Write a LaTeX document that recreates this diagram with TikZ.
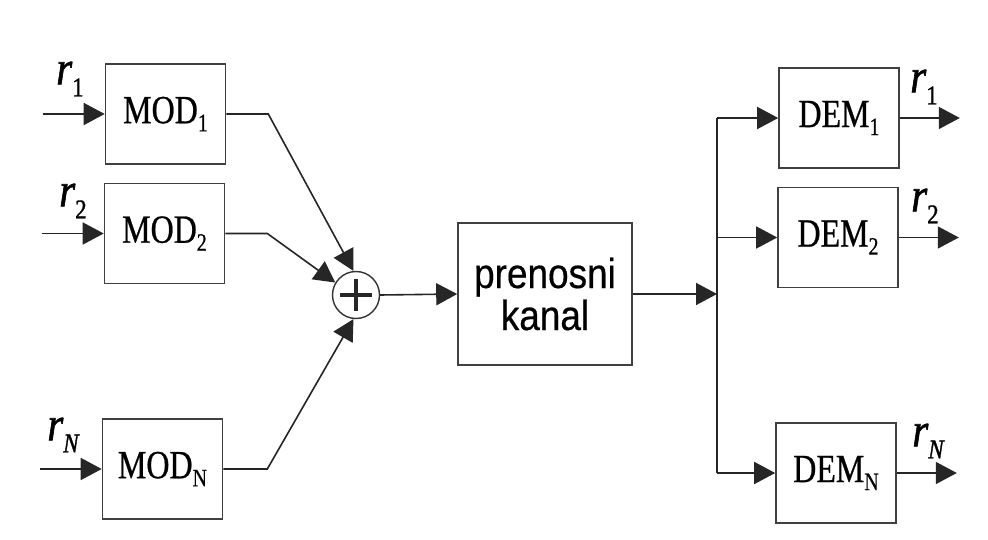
\documentclass[tikz,border=0pt]{standalone}
\usepackage{fontspec}
\setmainfont{Liberation Serif}
\newfontfamily\blockserif[FakeStretch=0.8, FakeBold=0.6]{Liberation Serif}
\newfontfamily\sigserif[FakeStretch=0.85, FakeBold=1.2]{Liberation Serif}
\newfontfamily\blocksans[FakeStretch=0.88, FakeBold=0.4]{Liberation Sans}
\usetikzlibrary{arrows.meta}

% block label with a lowered index, e.g. MOD_1
\newcommand{\blk}[2]{{\blockserif\fontsize{40}{40}\selectfont #1\raisebox{-8pt}{\fontsize{25}{25}\selectfont #2}}}
% signal name r with index
\newcommand{\sig}[1]{{\sigserif\fontsize{48}{48}\selectfont\itshape r\raisebox{-12pt}{\fontsize{27}{27}\selectfont\upshape #1}}}

\begin{document}
\begin{tikzpicture}[x=1pt, y=-1pt,
  line/.style={draw=black!85, line width=1.6pt},
  arr/.style={line, -{Triangle[length=21pt, width=22pt]}},
  blockbox/.style={draw=black!75, line width=1.6pt, fill=white, inner sep=0pt,
                   minimum width=120pt, minimum height=100pt},
  sumnode/.style={circle, draw=black!80, line width=1.4pt, minimum size=47pt, inner sep=0pt},
  sigtext/.style={inner sep=0pt}]

  \useasboundingbox[fill=white] (0,0) rectangle (988,540);

  % modulators
  \node[blockbox] (mod1) at (165.5,114)   {\blk{MOD}{1}};
  \node[blockbox] (mod2) at (164.5,233.5) {\blk{MOD}{2}};
  \node[blockbox] (modN) at (162.5,469)   {\blk{MOD}{N}};

  % adder
  \node[sumnode] (sum) at (356,295) {};
  \draw[line width=4pt, black!85] ([xshift=-16pt]sum.center) -- ([xshift=16pt]sum.center);
  \draw[line width=4pt, black!85] ([yshift=-16pt]sum.center) -- ([yshift=16pt]sum.center);

  % channel
  \node[blockbox, minimum width=174pt, minimum height=142pt, align=center,
        font=\blocksans\fontsize{42}{42}\selectfont] (chan) at (545,294) {prenosni\\kanal};

  % demodulators
  \node[blockbox] (dem1) at (839,118)   {\blk{DEM}{1}};
  \node[blockbox] (dem2) at (838,237.5) {\blk{DEM}{2}};
  \node[blockbox] (demN) at (836,473)   {\blk{DEM}{N}};

  % signal labels
  \node[sigtext] (lin1) at (70,79)  {\sig{1}};
  \node[sigtext] (lin2) at (73,201) {\sig{2}};
  \node[sigtext] (linN) at (63,435) {\sig{\itshape N}};
  \node[sigtext] (lout1) at (924,87)  {\sig{1}};
  \node[sigtext] (lout2) at (925,206) {\sig{2}};
  \node[sigtext] (loutN) at (928,441) {\sig{\itshape N}};

  % input and output ends
  \coordinate (in1) at ([xshift=-62pt]mod1.west);
  \coordinate (in2) at ([xshift=-62pt]mod2.west);
  \coordinate (inN) at ([xshift=-62pt]modN.west);
  \coordinate (out1) at ([xshift=60pt]dem1.east);
  \coordinate (out2) at ([xshift=60pt]dem2.east);
  \coordinate (outN) at ([xshift=60pt]demN.east);

  % bends towards the adder
  \coordinate (k1) at ([xshift=42pt]mod1.east);
  \coordinate (k2) at ([xshift=42pt]mod2.east);
  \coordinate (kN) at ([xshift=44pt]modN.east);

  % distribution bus
  \coordinate (busx) at (717,0);

  \draw[arr] (in1) -- (mod1.west);
  \draw[arr] (in2) -- (mod2.west);
  \draw[arr] (inN) -- (modN.west);

  \draw[arr] (mod1.east) -- (k1) -- (sum.96);
  \draw[arr] (mod2.east) -- (k2) -- (sum.149);
  \draw[arr] (modN.east) -- (kN) -- (sum.264);

  \draw[arr] (sum.east) -- (chan.west);
  \draw[arr] (chan.east) -- (chan.east -| busx);

  \draw[line] (dem1.west -| busx) -- (demN.west -| busx);
  \draw[arr] (dem1.west -| busx) -- (dem1.west);
  \draw[arr] (dem2.west -| busx) -- (dem2.west);
  \draw[arr] (demN.west -| busx) -- (demN.west);

  \draw[arr] (dem1.east) -- (out1);
  \draw[arr] (dem2.east) -- (out2);
  \draw[arr] (demN.east) -- (outN);
\end{tikzpicture}
\end{document}
